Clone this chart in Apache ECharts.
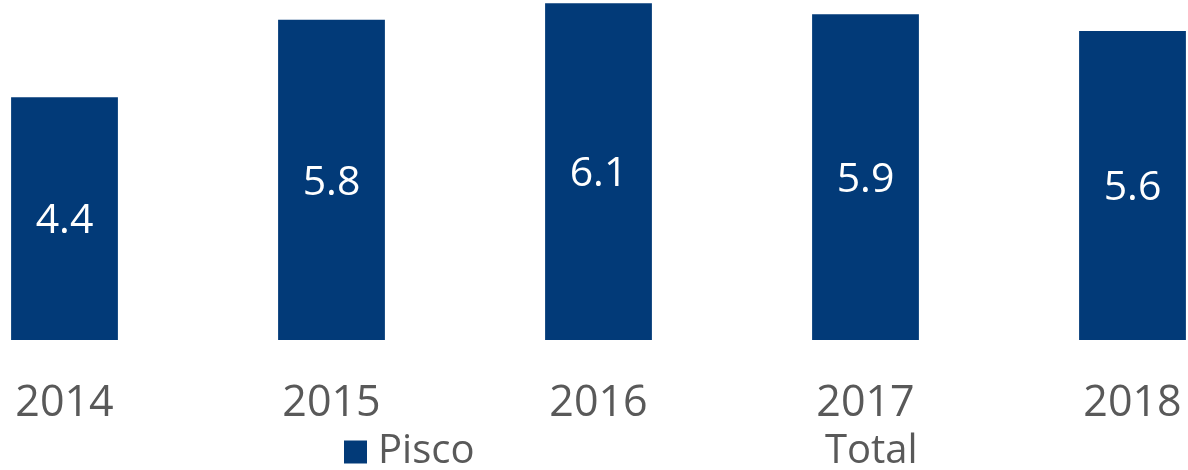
<!DOCTYPE html>
<html>
<head>
<meta charset="utf-8">
<script src="https://cdn.jsdelivr.net/npm/echarts@6/dist/echarts.min.js"></script>
<style>
  html, body { margin: 0; padding: 0; background: #fff; overflow: hidden; }
  /* the plot is cropped on both sides in the original: draw wider and shift left */
  #main { width: 1335px; height: 470px; margin-left: -69px; }
</style>
</head>
<body>
<div id="main"></div>
<script>
// data
const years = ['2014', '2015', '2016', '2017', '2018'];
const piscoValues = [4.4, 5.8, 6.1, 5.9, 5.6];
const seriesNames = ['Pisco', 'Total'];

const chart = echarts.init(document.getElementById('main'), null, { renderer: 'canvas' });

const textColor = '#595959';
const barColor = '#023a78';
const font = '"Open Sans", "Noto Sans", sans-serif';
const shift = 69; // div offset

chart.setOption({
    animation: false,
    textStyle: { fontFamily: font },
    grid: { left: 0, right: 0, top: 0, bottom: 130 },
    legend: [
        {
            data: [seriesNames[0]],
            left: 339 + shift, top: 427,
            icon: 'rect', itemWidth: 23, itemHeight: 23, itemGap: 0,
            textStyle: { color: textColor, fontSize: 40, fontFamily: font, padding: [0, 0, 0, 6] }
        },
        {
            data: [seriesNames[1]],
            left: 794 + shift, top: 427,
            icon: 'rect', itemWidth: 21, itemHeight: 22,
            itemStyle: { opacity: 0 },
            textStyle: { color: textColor, fontSize: 40, fontFamily: font }
        }
    ],
    xAxis: {
        type: 'category',
        data: years,
        axisLine: { show: false },
        axisTick: { show: false },
        axisLabel: { color: textColor, fontSize: 43, margin: 42, fontFamily: font }
    },
    yAxis: {
        type: 'value',
        min: 0, max: 6.16,
        show: false,
        splitLine: { show: false }
    },
    series: [
        {
            name: seriesNames[0],
            type: 'bar',
            data: piscoValues,
            barCategoryGap: '60%',
            itemStyle: { color: barColor },
            label: {
                show: true,
                position: 'inside',
                offset: [0, 3],
                color: '#fff',
                fontSize: 41,
                fontFamily: font,
                formatter: p => p.value.toFixed(1)
            }
        },
        {
            // legend-only entry, as in the original
            name: seriesNames[1],
            type: 'line',
            data: [],
            itemStyle: { color: 'transparent' }
        }
    ]
});
</script>
</body>
</html>
